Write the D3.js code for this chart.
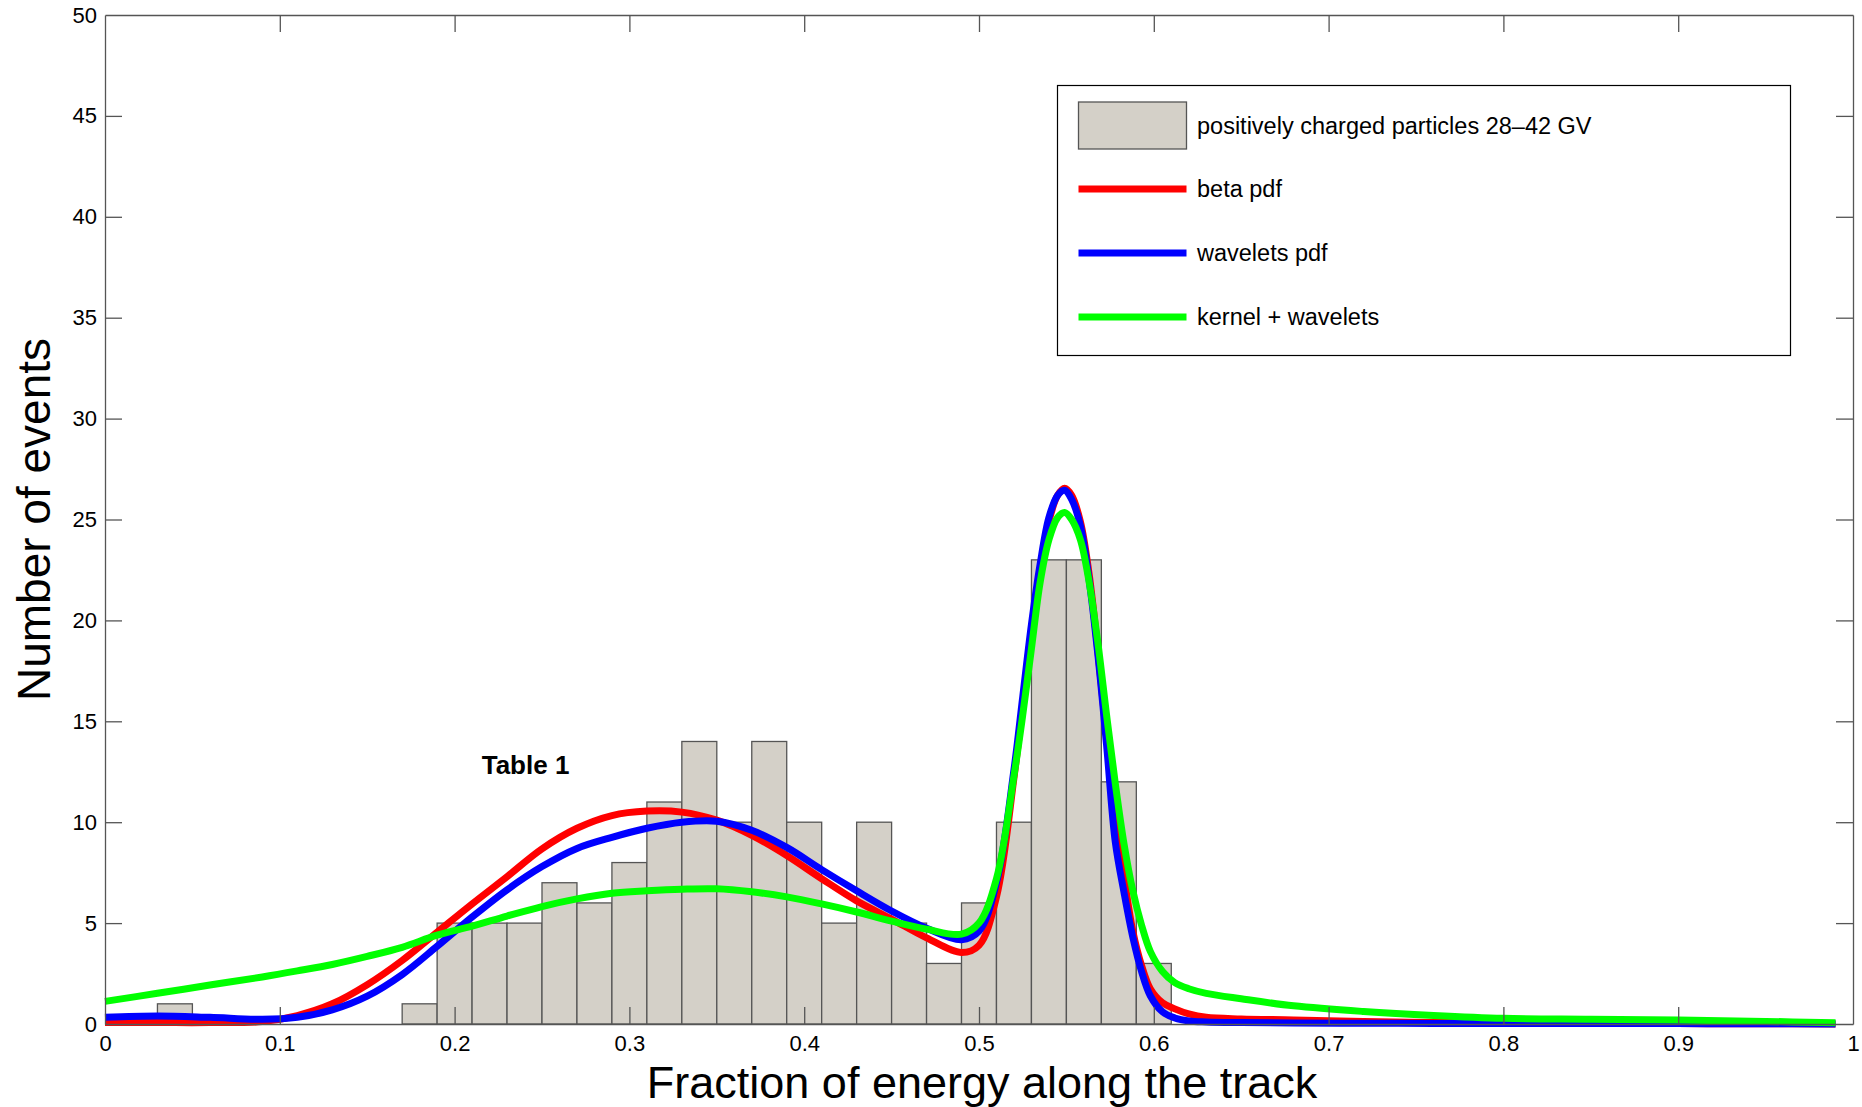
<!DOCTYPE html>
<html>
<head>
<meta charset="utf-8">
<script src="https://cdn.jsdelivr.net/npm/d3@7"></script>
<style>
  body { margin: 0; background: #fff; }
  text { font-family: "Liberation Sans", Arial, Helvetica, sans-serif; fill: #000; }
</style>
</head>
<body>
<svg id="chart" width="1862" height="1107"></svg>
<script>
// histogram bins (width 0.02), only non-empty ones
const binCenters = [0.04, 0.18, 0.20, 0.22, 0.24, 0.26, 0.28, 0.30, 0.32, 0.34, 0.36, 0.38,
  0.40, 0.42, 0.44, 0.46, 0.48, 0.50, 0.52, 0.54, 0.56, 0.58, 0.60];
const binCounts = [1, 1, 5, 5, 5, 7, 6, 8, 11, 14, 10, 14,
  10, 5, 10, 5, 3, 6, 10, 23, 23, 12, 3];
const binWidth = 0.02;

// fitted curves
const fracX = [0, 0.03, 0.06, 0.09, 0.11, 0.13, 0.15, 0.17, 0.19, 0.21, 0.23, 0.25, 0.27, 0.29,
  0.31, 0.33, 0.35, 0.37, 0.39, 0.41, 0.43, 0.45, 0.47, 0.49, 0.50, 0.51, 0.52, 0.525, 0.53,
  0.535, 0.54, 0.545, 0.549, 0.553, 0.558, 0.563, 0.568, 0.573, 0.578, 0.583, 0.588, 0.593,
  0.598, 0.605, 0.612, 0.62, 0.63, 0.65, 0.68, 0.72, 0.76, 0.8, 0.85, 0.9, 0.95, 0.99];
const betaPdf = [0.07, 0.07, 0.07, 0.12, 0.42, 1.0, 1.95, 3.15, 4.55, 5.95, 7.3, 8.68, 9.7, 10.33,
  10.55, 10.5, 10.1, 9.35, 8.35, 7.2, 6.1, 5.2, 4.27, 3.54, 3.9, 6.3, 12.2, 15.8, 19.5,
  22.3, 24.9, 26.2, 26.55, 26.2, 24.9, 22.3, 18.5, 14.2, 10.5, 7.3, 4.6, 2.9,
  1.75, 1.05, 0.75, 0.5, 0.33, 0.25, 0.2, 0.12, 0.08, 0.05, 0.03, 0.02, 0.01, 0.0];
const waveletsPdf = [0.33, 0.4, 0.33, 0.23, 0.33, 0.7, 1.38, 2.45, 3.85, 5.3, 6.65, 7.8, 8.7, 9.25,
  9.7, 10.0, 10.05, 9.6, 8.75, 7.65, 6.6, 5.6, 4.75, 4.18, 4.6, 7.0, 12.6, 16.2, 19.8,
  22.8, 25.1, 26.2, 26.45, 26.0, 24.7, 22.0, 18.3, 13.8, 9.0, 6.5, 4.3, 2.6,
  1.4, 0.6, 0.3, 0.15, 0.1, 0.07, 0.05, 0.04, 0.03, 0.03, 0.02, 0.02, 0.01, 0.0];
const kernelWavelets = [1.12, 1.52, 1.93, 2.33, 2.63, 2.95, 3.35, 3.8, 4.4, 4.85, 5.35, 5.82, 6.2, 6.48,
  6.6, 6.68, 6.7, 6.55, 6.3, 5.95, 5.55, 5.1, 4.7, 4.45, 5.0, 7.2, 12.3, 15.3, 18.6,
  21.9, 24.0, 25.1, 25.35, 25.0, 24.0, 21.9, 18.9, 15.3, 11.9, 8.9, 6.6, 4.9,
  3.6, 2.6, 2.05, 1.75, 1.52, 1.25, 0.9, 0.62, 0.42, 0.28, 0.24, 0.2, 0.13, 0.06];

const xTicks = [0, 0.1, 0.2, 0.3, 0.4, 0.5, 0.6, 0.7, 0.8, 0.9, 1];
const yTicks = [0, 5, 10, 15, 20, 25, 30, 35, 40, 45, 50];

const seriesNames = ["beta pdf", "wavelets pdf", "kernel + wavelets"];
const seriesColors = ["#ff0000", "#0000ff", "#00ff00"];
const histName = "positively charged particles 28\u201342 GV";

const svg = d3.select("#chart");
const plotL = 105, plotR = 1853, plotT = 15, plotB = 1024;

const x = d3.scaleLinear().domain([0, 1]).range([plotL, plotR]);
const y = d3.scaleLinear().domain([0, 50]).range([plotB, plotT]);

// bars
svg.append("g").selectAll("rect")
  .data(binCenters.map((c, i) => ({ c, n: binCounts[i] })))
  .join("rect")
  .attr("x", d => x(d.c - binWidth / 2))
  .attr("width", d => x(d.c + binWidth / 2) - x(d.c - binWidth / 2))
  .attr("y", d => y(d.n))
  .attr("height", d => y(0) - y(d.n))
  .attr("fill", "#d4d0c8")
  .attr("stroke", "#555")
  .attr("stroke-width", 1.3);

// curves
const line = d3.line()
  .x(d => x(d[0]))
  .y(d => y(Math.max(0, d[1])))
  .curve(d3.curveCatmullRom.alpha(0.5));

[betaPdf, waveletsPdf, kernelWavelets].forEach((vals, i) => {
  svg.append("path")
    .datum(fracX.map((f, j) => [f, vals[j]]))
    .attr("d", line)
    .attr("fill", "none")
    .attr("stroke", seriesColors[i])
    .attr("stroke-width", 7)
    .attr("stroke-linejoin", "round");
});

// axes, ticks pointing inward
const tick = 17;
const axisColor = "#555";
const gx = svg.append("g").attr("transform", `translate(0,${plotB})`)
  .call(d3.axisBottom(x).tickValues(xTicks).tickSize(-tick).tickSizeOuter(0).tickPadding(11)
    .tickFormat(d => d3.format("")(d)));
const gy = svg.append("g").attr("transform", `translate(${plotL},0)`)
  .call(d3.axisLeft(y).tickValues(yTicks).tickSize(-tick).tickSizeOuter(0).tickPadding(8));
const gt = svg.append("g").attr("transform", `translate(0,${plotT})`)
  .call(d3.axisTop(x).tickValues(xTicks).tickSize(-tick).tickSizeOuter(0).tickFormat(""));
const gr = svg.append("g").attr("transform", `translate(${plotR},0)`)
  .call(d3.axisRight(y).tickValues(yTicks).tickSize(-tick).tickSizeOuter(0).tickFormat(""));

[gx, gy, gt, gr].forEach(g => {
  g.selectAll("path, line").attr("stroke", axisColor).attr("stroke-width", 1.3);
  g.selectAll("text").attr("font-size", 22).attr("fill", "#000")
    .attr("font-family", "'Liberation Sans', Arial, Helvetica, sans-serif");
});
// hide the end ticks that sit on the frame
gx.selectAll(".tick line").filter(d => d === 0 || d === 1).remove();
gt.selectAll(".tick line").filter(d => d === 0 || d === 1).remove();
gy.selectAll(".tick line").filter(d => d === 0 || d === 50).remove();
gr.selectAll(".tick line").filter(d => d === 0 || d === 50).remove();

// axis titles
svg.append("text")
  .attr("x", (plotL + plotR) / 2 + 3).attr("y", 1097.5)
  .attr("text-anchor", "middle").attr("font-size", 45)
  .text("Fraction of energy along the track");
svg.append("text")
  .attr("transform", `translate(50,${(plotT + plotB) / 2}) rotate(-90)`)
  .attr("text-anchor", "middle").attr("font-size", 46)
  .text("Number of events");

// annotation
svg.append("text")
  .attr("x", x(0.2155)).attr("y", y(12.4))
  .attr("font-size", 26).attr("font-weight", "bold")
  .text("Table 1");

// legend
const lg = svg.append("g");
lg.append("rect")
  .attr("x", 1057.5).attr("y", 85.5).attr("width", 733).attr("height", 270)
  .attr("fill", "#fff").attr("stroke", "#000").attr("stroke-width", 1.2);
lg.append("rect")
  .attr("x", 1078.5).attr("y", 102).attr("width", 108).attr("height", 47)
  .attr("fill", "#d4d0c8").attr("stroke", "#555").attr("stroke-width", 1.3);
const rowsY = [125.5, 189, 253, 317];
const labels = [histName].concat(seriesNames);
seriesNames.forEach((n, i) => {
  lg.append("line")
    .attr("x1", 1078.5).attr("x2", 1186.5)
    .attr("y1", rowsY[i + 1]).attr("y2", rowsY[i + 1])
    .attr("stroke", seriesColors[i]).attr("stroke-width", 7);
});
labels.forEach((t, i) => {
  lg.append("text")
    .attr("x", 1197).attr("y", rowsY[i] + 8)
    .attr("font-size", 23.5)
    .text(t);
});
</script>
</body>
</html>
